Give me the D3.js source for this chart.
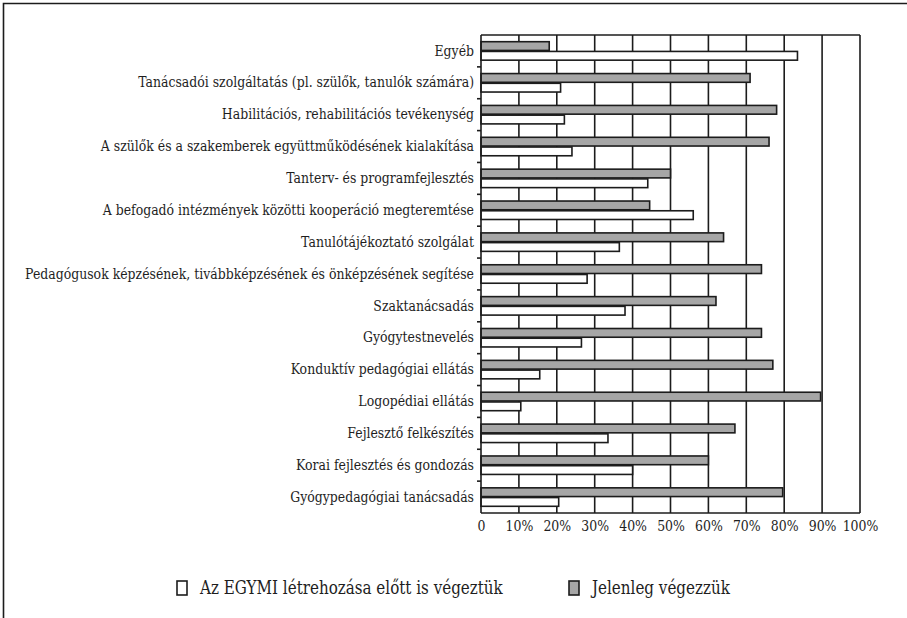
<!DOCTYPE html>
<html><head><meta charset="utf-8">
<script src="https://cdn.jsdelivr.net/npm/d3@7"></script>
<style>
html,body{margin:0;padding:0;background:#fff;}
</style></head>
<body><svg id="c" width="907" height="618"></svg>
<script>
const categories = [
  "Egyéb",
  "Tanácsadói szolgáltatás (pl. szülők, tanulók számára)",
  "Habilitációs, rehabilitációs tevékenység",
  "A szülők és a szakemberek együttműködésének kialakítása",
  "Tanterv- és programfejlesztés",
  "A befogadó intézmények közötti kooperáció megteremtése",
  "Tanulótájékoztató szolgálat",
  "Pedagógusok képzésének, tivábbképzésének és önképzésének segítése",
  "Szaktanácsadás",
  "Gyógytestnevelés",
  "Konduktív pedagógiai ellátás",
  "Logopédiai ellátás",
  "Fejlesztő felkészítés",
  "Korai fejlesztés és gondozás",
  "Gyógypedagógiai tanácsadás"
];
const seriesNames = ["Az EGYMI létrehozása előtt is végeztük", "Jelenleg végezzük"];
const before = [83.5, 21, 22, 24, 44, 56, 36.5, 28, 38, 26.5, 15.5, 10.5, 33.5, 40, 20.5];
const current = [18, 71, 78, 76, 50, 44.5, 64, 74, 62, 74, 77, 89.6, 67, 60, 79.6];
const tickValues = [0,10,20,30,40,50,60,70,80,90,100];
const tickLabels = ["0","10%","20%","30%","40%","50%","60%","70%","80%","90%","100%"];

const svg = d3.select("#c");
const X0 = 481, X1 = 860, Y0 = 35, Y1 = 513;
const ink = "#1c1c1c";
const txt = "#1e1e1e";
const grayFill = "#a6a6a6";
const FONT = "DejaVu Serif";
const SQUEEZE = 0.86;

function condense(sel, f) {
  sel.each(function(){
    const w = this.getComputedTextLength();
    this.setAttribute("textLength", (w*f).toFixed(2));
    this.setAttribute("lengthAdjust", "spacingAndGlyphs");
  });
}

svg.append("path").attr("d", "M3.5,618 V3.5 H907").attr("fill","none").attr("stroke",ink).attr("stroke-width",1.6);

const x = d3.scaleLinear().domain([0,100]).range([X0, X1]);
const y = d3.scaleBand().domain(categories).range([Y0, Y1]).padding(0);
const sub = d3.scaleBand().domain(["current","before"]).range([6.7, y.bandwidth()-6.7]).padding(0);

svg.append("g").selectAll("line").data(tickValues.slice(1)).join("line")
  .attr("x1", d=>x(d)).attr("x2", d=>x(d)).attr("y1", Y0).attr("y2", Y1)
  .attr("stroke", ink).attr("stroke-width", 1.6);
svg.append("line").attr("x1",X0).attr("x2",X1).attr("y1",Y0).attr("y2",Y0).attr("stroke",ink).attr("stroke-width",1.6);

const rows = categories.map((c,i)=>({c, current: current[i], before: before[i]}));
const g = svg.append("g");
rows.forEach(r=>{
  g.append("rect").attr("x", x(0)).attr("y", y(r.c)+sub("current"))
    .attr("width", x(r.current)-x(0)).attr("height", sub.bandwidth()-0.5)
    .attr("fill", grayFill).attr("stroke", ink).attr("stroke-width", 1.6);
  g.append("rect").attr("x", x(0)).attr("y", y(r.c)+sub("before")+0.5)
    .attr("width", x(r.before)-x(0)).attr("height", sub.bandwidth()-0.5)
    .attr("fill", "#fff").attr("stroke", ink).attr("stroke-width", 1.6);
});

const yAxis = d3.axisLeft(y).tickSize(0).tickPadding(7);
const ya = svg.append("g").attr("transform", `translate(${X0},0)`).call(yAxis);
ya.attr("font-family", FONT).attr("font-size", 14.5);
ya.select(".domain").attr("stroke", ink).attr("stroke-width", 1.6).attr("d", `M0,${Y0}V${Y1}`);
ya.selectAll("text").attr("fill", txt).call(condense, SQUEEZE);
svg.append("g").selectAll("line").data(categories.slice(1)).join("line")
  .attr("x1", X0-4).attr("x2", X0).attr("y1", d=>y(d)).attr("y2", d=>y(d))
  .attr("stroke", ink).attr("stroke-width", 1.6);

const xAxis = d3.axisBottom(x).tickValues(tickValues).tickFormat((d,i)=>tickLabels[i]).tickSize(0).tickPadding(8);
const xa = svg.append("g").attr("transform", `translate(0,${Y1})`).call(xAxis);
xa.attr("font-family", FONT).attr("font-size", 14.5);
xa.select(".domain").attr("stroke", ink).attr("stroke-width", 1.6).attr("d", `M${X0},0H${X1}`);
xa.selectAll("text").attr("fill", txt).call(condense, SQUEEZE);

const legend = [
  {name: seriesNames[0], fill: "#fff", bx: 177},
  {name: seriesNames[1], fill: grayFill, bx: 569}
];
const lg = svg.append("g").attr("font-family", FONT).attr("font-size", 17.6);
legend.forEach(l=>{
  lg.append("rect").attr("x", l.bx).attr("y", 581).attr("width", 10).attr("height", 14)
    .attr("fill", l.fill).attr("stroke", ink).attr("stroke-width", 1.6);
  lg.append("text").attr("x", l.bx+23).attr("y", 588).attr("dy","0.35em")
    .attr("fill", txt).text(l.name).call(condense, SQUEEZE);
});
</script></body></html>
